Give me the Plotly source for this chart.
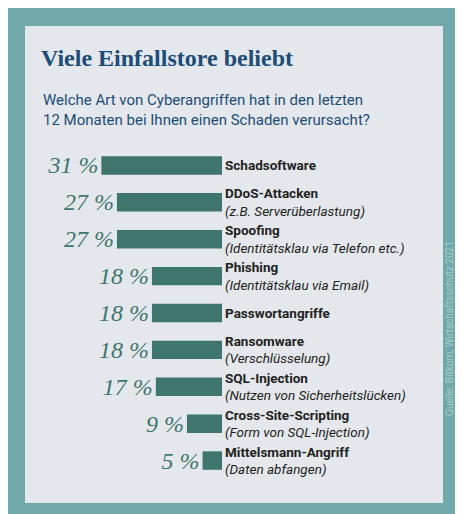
import plotly.graph_objects as go

# Bitkom survey values (%), top to bottom
attacks = ["Schadsoftware", "DDoS-Attacken", "Spoofing", "Phishing", "Passwortangriffe",
           "Ransomware", "SQL-Injection", "Cross-Site-Scripting", "Mittelsmann-Angriff"]
notes = ["", "z.B. Serverüberlastung", "Identitätsklau via Telefon etc.", "Identitätsklau via Email", "",
         "Verschlüsselung", "Nutzen von Sicherheitslücken", "Form von SQL-Injection", "Daten abfangen"]
shares = [31, 27, 27, 18, 18, 18, 17, 9, 5]

TEAL = "#6fa9aa"
BAR = "#3e766d"
BLUE = "#1c4c78"

ticktext = [f"<b>{a}</b>" + (f"<br><i>({n})</i>" if n else "") for a, n in zip(attacks, notes)]

fig = go.Figure(go.Bar(
    x=shares, y=attacks, orientation="h",
    marker=dict(color=BAR, line=dict(width=0)),
    text=[f"{v} %" for v in shares], textposition="outside", cliponaxis=False,
    constraintext="none",
    textfont=dict(family="Liberation Serif", size=24, color=BAR, style="italic"),
    hoverinfo="skip",
))

fig.add_shape(type="rect", xref="paper", yref="paper", x0=17/463, x1=435/463,
              y0=1-495/514, y1=1-18/514, fillcolor="#e4e8ec", line=dict(width=0), layer="below")

fig.update_xaxes(range=[55, 0], domain=[0, 214/463], visible=False, fixedrange=True)
fig.update_yaxes(domain=[1-471/514, 1-139/514], autorange="reversed", side="right",
                 tickvals=attacks, ticktext=ticktext, ticks="", showgrid=False, showline=False,
                 ticklabelstandoff=2,
                 tickfont=dict(family="Roboto", size=13.5, color="#222"))

fig.add_annotation(text="<b>Viele Einfallstore beliebt</b>", xref="paper", yref="paper",
                   x=31/463, y=1-50/514, xanchor="left", yanchor="middle", showarrow=False,
                   font=dict(family="Liberation Serif", size=24, color=BLUE))
fig.add_annotation(text="Welche Art von Cyberangriffen hat in den letzten<br>12 Monaten bei Ihnen einen Schaden verursacht?",
                   xref="paper", yref="paper", x=33/463, y=1-102/514, xanchor="left", yanchor="middle",
                   align="left", showarrow=False, font=dict(family="Roboto", size=15, color=BLUE))
fig.add_annotation(text="Quelle: Bitkom, Wirtschaftsschutz 2021", xref="paper", yref="paper",
                   x=449/463, y=1-410/514, textangle=-90, showarrow=False,
                   font=dict(family="Roboto", size=10, color="#a9cbcb"))

fig.update_layout(width=463, height=514, margin=dict(l=0, r=0, t=0, b=0),
                  paper_bgcolor=TEAL, plot_bgcolor="rgba(0,0,0,0)", bargap=0.5, showlegend=False)

fig.write_html("out.html")
